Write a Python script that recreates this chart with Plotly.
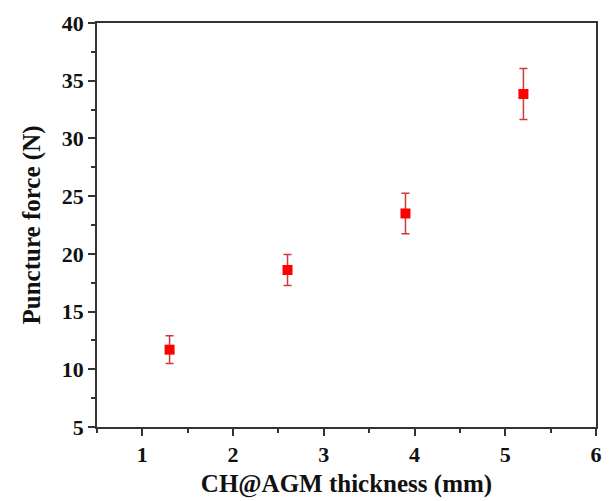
import plotly.graph_objects as go

thickness_mm = [1.3, 2.6, 3.9, 5.2]
force_n = [11.7, 18.6, 23.5, 33.85]
force_err = [1.2, 1.35, 1.75, 2.2]

x_ticks = [1, 2, 3, 4, 5, 6]
y_ticks = [5, 10, 15, 20, 25, 30, 35, 40]

font_family = "Liberation Serif, Times New Roman, serif"

fig = go.Figure()
fig.add_trace(go.Scatter(
    x=thickness_mm, y=force_n, mode="markers",
    marker=dict(symbol="square", size=10, color="#ff0000", line=dict(width=0)),
    error_y=dict(type="data", array=force_err, visible=True,
                 color="#cc3a3a", thickness=1.5, width=4),
    showlegend=False,
))

axis_common = dict(
    showline=True, linecolor="#333333", linewidth=1.5, mirror=True,
    ticks="outside", ticklen=7, tickwidth=1.5, tickcolor="#333333",
    showgrid=False, zeroline=False,
    tickfont=dict(family=font_family, size=22, color="#111111", weight="bold"),
)

fig.update_xaxes(
    range=[0.5, 6], tickvals=x_ticks,
    minor=dict(ticks="outside", ticklen=4, tickwidth=1.5, tickcolor="#333333", dtick=0.5, tick0=0.5),
    title=dict(text="<b>CH@AGM thickness (mm)</b>", font=dict(family=font_family, size=25, color="#111111"), standoff=8),
    **axis_common,
)
fig.update_yaxes(
    range=[5, 40], tickvals=y_ticks,
    minor=dict(ticks="outside", ticklen=4, tickwidth=1.5, tickcolor="#333333", dtick=2.5, tick0=5),
    title=dict(text="<b>Puncture force (N)</b>", font=dict(family=font_family, size=25, color="#111111"), standoff=14),
    **axis_common,
)

fig.update_layout(
    width=610, height=501,
    margin=dict(l=97, r=8, t=23, b=74),
    plot_bgcolor="white", paper_bgcolor="white",
    font=dict(family=font_family, size=22, color="#111111"),
)

fig.write_html("out.html")
